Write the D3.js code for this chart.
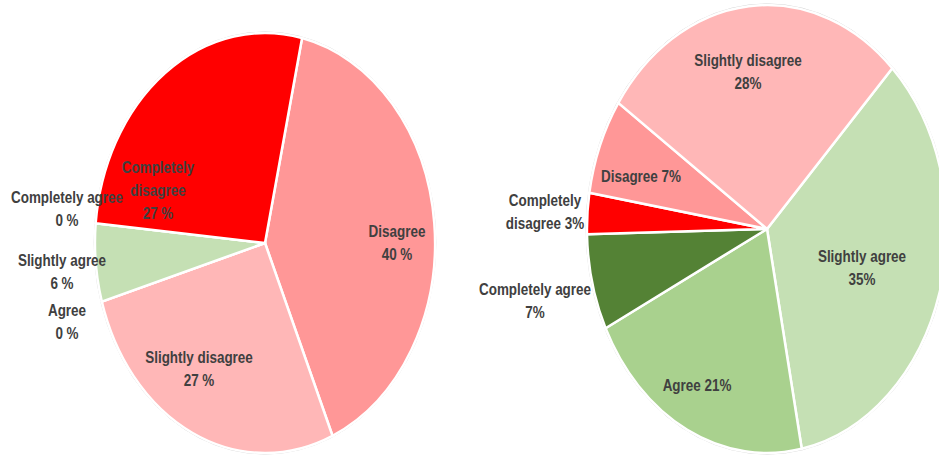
<!DOCTYPE html>
<html>
<head>
<meta charset="utf-8">
<script src="https://cdnjs.cloudflare.com/ajax/libs/d3/7.8.5/d3.min.js"></script>
<style>
  body { margin: 0; background: #fff; }
  text { font-family: "Liberation Sans", Arial, sans-serif; font-weight: bold; fill: #404040; }
</style>
</head>
<body>
<div id="chart-area"></div>
<script>
// left pie, clockwise order
var leftCats = ["Disagree", "Slightly disagree", "Agree", "Slightly agree", "Completely agree", "Completely disagree"];
var leftVals = [40, 27, 0, 6, 0, 27];
var leftText = [["Disagree", "40 %"], ["Slightly disagree", "27 %"], ["Agree", "0 %"], ["Slightly agree", "6 %"], ["Completely agree", "0 %"], ["Completely", "disagree", "27 %"]];

// right pie, clockwise order
var rightCats = ["Slightly agree", "Agree", "Completely agree", "Completely disagree", "Disagree", "Slightly disagree"];
var rightVals = [35, 21, 7, 3, 7, 28];
var rightText = [["Slightly agree", "35%"], ["Agree 21%"], ["Completely agree", "7%"], ["Completely", "disagree 3%"], ["Disagree 7%"], ["Slightly disagree", "28%"]];

var width = 939, height = 456;

var color = d3.scaleOrdinal()
    .domain(["Completely disagree", "Disagree", "Slightly disagree", "Slightly agree", "Agree", "Completely agree"])
    .range(["#ff0000", "#ff9797", "#ffb7b7", "#c5e0b4", "#a9d18e", "#548235"]);

var svg = d3.select("#chart-area").append("svg")
    .attr("width", width)
    .attr("height", height);

// label anchors (centre x, first line y) per slice
var leftLabelPos = [[397, 237], [199, 363], [67, 316], [62, 266], [67, 203], [158, 173]];
var rightLabelPos = [[862, 262], [697, 391], [535, 295], [545, 206], [641, 182], [748, 66]];

function drawPie(cx, cy, rx, ry, start, cats, vals, texts, labelPos) {
    var pie = d3.pie().sort(null).value(d => d)
        .startAngle(start * Math.PI / 180)
        .endAngle((start + 360) * Math.PI / 180);
    var arc = d3.arc().innerRadius(0).outerRadius(1);

    var g = svg.append("g")
        .attr("transform", "translate(" + cx + "," + cy + ") scale(" + rx + "," + ry + ")");

    g.append("ellipse")
        .attr("rx", 1.005).attr("ry", 1.005)
        .attr("fill", "none")
        .attr("stroke", "#d4d4d4")
        .attr("stroke-width", 1)
        .attr("vector-effect", "non-scaling-stroke");

    g.selectAll("path")
        .data(pie(vals))
        .enter().append("path")
        .attr("d", arc)
        .attr("fill", (d, i) => color(cats[i]))
        .attr("stroke", "#fff")
        .attr("stroke-width", 2.5)
        .attr("stroke-linejoin", "round")
        .attr("vector-effect", "non-scaling-stroke");

    texts.forEach((lines, i) => {
        var t = svg.append("text")
            .attr("text-anchor", "middle")
            .attr("font-size", "16px");
        lines.forEach((s, j) => {
            var ts = t.append("tspan")
                .attr("x", labelPos[i][0])
                .attr("y", labelPos[i][1] + j * 23)
                .text(s);
            // squeeze to a Calibri-like narrow width
            var w = ts.node().getComputedTextLength();
            ts.attr("textLength", w * 0.84).attr("lengthAdjust", "spacingAndGlyphs");
        });
    });
}

drawPie(265, 243, 170, 210, 12.6, leftCats, leftVals, leftText, leftLabelPos);
drawPie(767, 229, 180, 224, 44.1, rightCats, rightVals, rightText, rightLabelPos);
</script>
</body>
</html>
